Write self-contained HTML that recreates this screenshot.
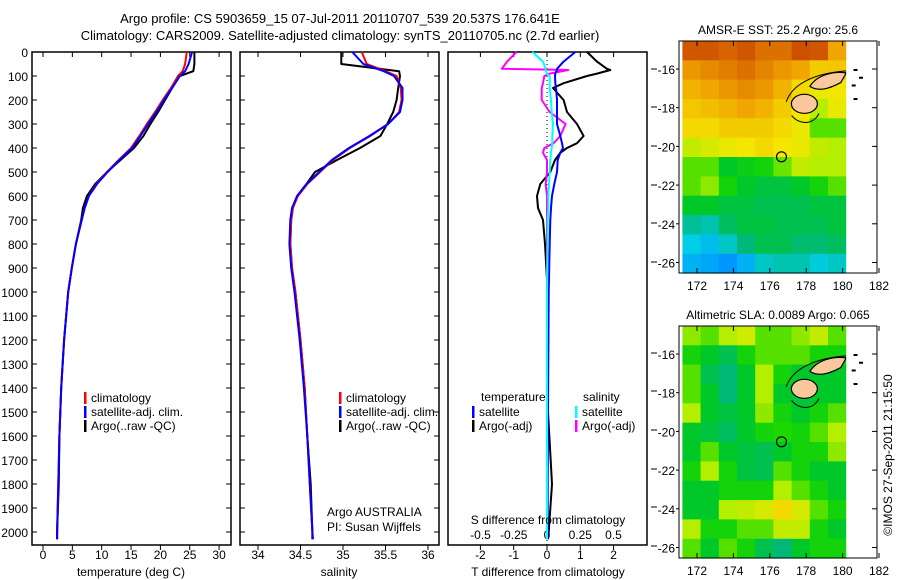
<!DOCTYPE html>
<html><head><meta charset="utf-8">
<style>
html,body{margin:0;padding:0;background:#fff;}
svg{display:block;font-family:"Liberation Sans",sans-serif;}
text{font-size:12px;fill:#000;}
</style></head>
<body>
<svg id="fig" width="900" height="580" viewBox="0 0 900 580" xmlns="http://www.w3.org/2000/svg">
<text x="340" y="23" text-anchor="middle" style="font-size:13px">Argo profile: CS 5903659_15 07-Jul-2011 20110707_539 20.537S 176.641E</text>
<text x="340" y="40" text-anchor="middle" style="font-size:13px">Climatology: CARS2009. Satellite-adjusted climatology: synTS_20110705.nc (2.7d earlier)</text>
<g id="g1"></g>
<g id="g2"></g>
<g id="g3"></g>
<g id="m1"></g>
<g id="m2"></g>
<text transform="translate(892,455) rotate(-90)" text-anchor="middle">©IMOS 27-Sep-2011 21:15:50</text>
</svg>
<script>
// ---- data ----
const depths   = [0, 50, 80, 100, 150, 200, 250, 300, 350, 400, 450, 500, 550, 600, 650, 700, 800, 900, 1000, 1200, 1400, 1600, 1800, 2000, 2030];
const tClim    = [24.5, 24.2, 23.8, 23.0, 21.8, 20.4, 19.1, 17.7, 16.4, 15.0, 12.9, 10.9, 9.1, 7.8, 7.1, 6.6, 5.6, 4.9, 4.3, 3.6, 3.1, 2.8, 2.6, 2.4, 2.4];
const tSat     = [25.4, 24.8, 24.2, 23.3, 22.0, 20.6, 19.3, 17.9, 16.6, 15.2, 13.0, 11.0, 9.2, 7.8, 7.1, 6.6, 5.6, 4.9, 4.3, 3.6, 3.1, 2.8, 2.6, 2.4, 2.4];
const tArgo    = [25.8, 25.8, 25.6, 23.3, 22.0, 20.8, 19.6, 18.3, 17.1, 15.5, 13.2, 10.9, 8.9, 7.5, 6.8, 6.5, 5.6, 4.9, 4.3, 3.6, 3.1, 2.8, 2.7, 2.4, 2.4];
const sClim    = [35.22, 35.28, 35.5, 35.63, 35.68, 35.69, 35.66, 35.53, 35.32, 35.08, 34.88, 34.73, 34.58, 34.47, 34.41, 34.39, 34.38, 34.40, 34.44, 34.50, 34.55, 34.58, 34.61, 34.64, 34.65];
const sSat     = [35.11, 35.24, 35.48, 35.60, 35.70, 35.70, 35.67, 35.53, 35.31, 35.07, 34.87, 34.72, 34.57, 34.46, 34.40, 34.38, 34.37, 34.39, 34.43, 34.49, 34.54, 34.58, 34.61, 34.64, 34.64];
const sArgo    = [34.98, 34.98, 35.66, 35.67, 35.65, 35.63, 35.59, 35.52, 35.44, 35.20, 34.93, 34.67, 34.57, 34.46, 34.41, 34.39, 34.38, 34.40, 34.44, 34.50, 34.55, 34.58, 34.62, 34.64, 34.64];
const dDepths  = [0, 40, 70, 75, 90, 100, 130, 150, 200, 250, 300, 350, 380, 400, 420, 450, 500, 550, 600, 650, 700, 800, 1000, 1500, 1800, 2000, 2030];
const dTsat    = [0.85, 0.5, 0.3, 0.3, 0.25, 0.24, 0.25, 0.27, 0.3, 0.3, 0.3, 0.4, 0.45, 0.48, 0.4, 0.32, 0.3, 0.22, 0.15, 0.12, 0.1, 0.08, 0.05, 0.03, 0.02, 0.02, 0.02];
const dTargo   = [1.2, 1.5, 1.8, 1.9, 1.5, 1.2, 0.5, 0.18, 0.5, 0.6, 0.9, 1.1, 0.9, 0.6, 0.4, 0.24, 0.1, -0.2, -0.3, -0.27, -0.12, -0.06, 0.02, 0.03, 0.15, 0.05, 0.03];
const dSsat    = [-0.11, -0.03, -0.01, -0.01, 0.0, 0.02, 0.02, 0.02, 0.03, 0.035, 0.045, 0.04, 0.04, 0.035, 0.03, 0.025, 0.02, 0.015, 0.01, 0.01, 0.005, 0.005, 0.0, 0.0, 0.0, 0.0, 0.0];
const dSargo   = [-0.23, -0.3, -0.34, 0.16, 0.02, -0.02, -0.03, -0.04, -0.04, 0.02, 0.14, 0.1, 0.05, -0.02, -0.03, 0.0, 0.0, -0.01, 0.0, 0.0, 0.0, 0.0, 0.0, 0.0, 0.0, 0.0, 0.0];
const depthTicks = [0,100,200,300,400,500,600,700,800,900,1000,1100,1200,1300,1400,1500,1600,1700,1800,1900,2000];
const tTicks = [0,5,10,15,20,25,30];
const sTicks = [34,34.5,35,35.5,36];
const dTticks = [-2,-1,0,1,2];
const dSticks = [-0.5,-0.25,0,0.25,0.5];
const dSlabels = ["-0.5","-0.25","0","0.25","0.5"];
const lonTicks = [172,174,176,178,180,182];
const latTicks = [-16,-18,-20,-22,-24,-26];
const sstGrid = [
[0.92,0.92,0.90,0.92,0.88,0.88,0.93,0.92,0.80],
[0.82,0.84,0.86,0.88,0.85,0.82,0.80,0.74,0.75],
[0.78,0.80,0.82,0.84,0.82,0.78,0.72,0.68,0.70],
[0.75,0.76,0.78,0.80,0.78,0.74,0.70,0.60,0.68],
[0.72,0.72,0.74,0.74,0.74,0.72,0.68,0.55,0.55],
[0.62,0.65,0.68,0.70,0.72,0.70,0.68,0.62,0.60],
[0.55,0.55,0.45,0.48,0.50,0.56,0.62,0.60,0.60],
[0.55,0.58,0.50,0.45,0.42,0.42,0.45,0.50,0.55],
[0.45,0.45,0.42,0.42,0.40,0.40,0.40,0.42,0.42],
[0.32,0.30,0.38,0.42,0.42,0.40,0.40,0.40,0.42],
[0.25,0.22,0.28,0.35,0.40,0.40,0.36,0.36,0.38],
[0.20,0.18,0.15,0.20,0.28,0.30,0.30,0.26,0.28]];
const slaGrid = [
[0.58,0.55,0.60,0.64,0.55,0.55,0.58,0.62,0.55],
[0.50,0.45,0.40,0.50,0.55,0.55,0.55,0.50,0.50],
[0.55,0.40,0.35,0.45,0.60,0.50,0.45,0.45,0.45],
[0.55,0.45,0.35,0.45,0.60,0.45,0.42,0.45,0.45],
[0.60,0.45,0.42,0.45,0.58,0.50,0.45,0.50,0.55],
[0.45,0.42,0.38,0.45,0.50,0.52,0.50,0.55,0.60],
[0.45,0.55,0.45,0.42,0.40,0.45,0.50,0.50,0.58],
[0.50,0.60,0.50,0.42,0.40,0.55,0.50,0.45,0.45],
[0.45,0.45,0.50,0.50,0.50,0.60,0.55,0.50,0.45],
[0.45,0.45,0.60,0.62,0.65,0.72,0.65,0.55,0.50],
[0.60,0.50,0.50,0.55,0.55,0.62,0.62,0.50,0.45],
[0.55,0.45,0.55,0.50,0.40,0.35,0.45,0.50,0.50]];
const argoLon = 176.641, argoLat = -20.537;

// ---- helpers ----
const NS="http://www.w3.org/2000/svg";
function mk(parent,tag,attrs,txt){const e=document.createElementNS(NS,tag);for(const k in attrs)e.setAttribute(k,attrs[k]);if(txt!==undefined)e.textContent=txt;parent.appendChild(e);return e;}
const Y0=52, Y1=545;
const yD = d => 52 + d*0.24;
function frame(g,x0,x1){
  const r=mk(g,'rect',{x:x0,y:Y0,width:x1-x0,height:Y1-Y0,fill:'none',stroke:'#000','stroke-width':1.5});
  
  
  depthTicks.forEach(d=>{
    mk(g,'line',{x1:x0,x2:x0+5,y1:yD(d),y2:yD(d),stroke:'#000'});
    mk(g,'line',{x1:x1,x2:x1-5,y1:yD(d),y2:yD(d),stroke:'#000'});
  });
}
function xticks(g,xs,labels,fx,ylab){
  xs.forEach((v,i)=>{
    const x=fx(v);
    mk(g,'line',{x1:x,x2:x,y1:Y1,y2:Y1+5,stroke:'#000'});
    mk(g,'line',{x1:x,x2:x,y1:Y0,y2:Y0+5,stroke:'#000'});
    const t=mk(g,'text',{x:x,y:ylab,'text-anchor':'middle'},labels[i]);
    
    
  });
}
function line(g,ds,vals,fx,col,name,w){
  const p=ds.map((d,i)=>fx(vals[i]).toFixed(1)+','+yD(d).toFixed(1)).join(' ');
  const e=mk(g,'polyline',{points:p,fill:'none',stroke:col,'stroke-width':w||2,'stroke-linejoin':'round'});
  
  
}
function legend(g,x,y,col,label){
  mk(g,'rect',{x:x,y:y-10,width:2.5,height:12,fill:col});
  const t=mk(g,'text',{x:x+7,y:y},label);
  
  
}

// ---- panel 1: temperature ----
const g1=document.getElementById('g1');
const xT = v => 43 + v*5.87;
frame(g1,32,231);
depthTicks.forEach(d=>{
  const t=mk(g1,'text',{x:28,y:yD(d)+5,'text-anchor':'end'},String(d));
  
  
});
xticks(g1,tTicks,tTicks.map(String),xT,559);
mk(g1,'text',{x:131,y:576,'text-anchor':'middle',},'temperature (deg C)');
line(g1,depths,tArgo,xT,'#000','argo-temperature-line');
line(g1,depths,tClim,xT,'#f00','climatology-temperature-line');
line(g1,depths,tSat,xT,'#00f','satellite-temperature-line');
legend(g1,84,402,'#f00','climatology');
legend(g1,84,416,'#00f','satellite-adj. clim.');
legend(g1,84,430,'#000','Argo(..raw -QC)');

// ---- panel 2: salinity ----
const g2=document.getElementById('g2');
const xS = v => 258 + (v-34)*85;
frame(g2,240,439);
xticks(g2,sTicks,["34","34.5","35","35.5","36"],xS,559);
mk(g2,'text',{x:339,y:576,'text-anchor':'middle',},'salinity');
line(g2,depths,sArgo,xS,'#000','argo-salinity-line');
line(g2,depths,sClim,xS,'#f00','climatology-salinity-line');
line(g2,depths,sSat,xS,'#00f','satellite-salinity-line');
legend(g2,339,402,'#f00','climatology');
legend(g2,339,416,'#00f','satellite-adj. clim.');
legend(g2,339,430,'#000','Argo(..raw -QC)');
mk(g2,'text',{x:327,y:516,},'Argo AUSTRALIA');
mk(g2,'text',{x:327,y:531,},'PI: Susan Wijffels');

// ---- panel 3: differences ----
const g3=document.getElementById('g3');
const xDT = v => 547 + v*33.3;
const xDS = v => 547 + v*133;
mk(g3,'rect',{x:448,y:Y0,width:199,height:Y1-Y0,fill:'none',stroke:'#000','stroke-width':1.5});
[69,107,146,185,223,262,353,391,430,469,507,546].forEach(y=>mk(g3,'line',{x1:651,x2:657,y1:y,y2:y,stroke:'#000'}));
dTticks.forEach(v=>{const x=xDT(v);mk(g3,'line',{x1:x,x2:x,y1:Y1,y2:Y1+5,stroke:'#000'});mk(g3,'line',{x1:x,x2:x,y1:Y0,y2:Y0+5,stroke:'#000'});
  const t=mk(g3,'text',{x:x,y:559,'text-anchor':'middle'},String(v));
  
  });
dSticks.forEach((v,i)=>{
  const t=mk(g3,'text',{x:xDS(v),y:539,'text-anchor':'middle'},dSlabels[i]);
  
  });
mk(g3,'line',{x1:547,x2:547,y1:Y0,y2:Y1,stroke:'#000','stroke-dasharray':'1,3'});
line(g3,dDepths,dTargo,xDT,'#000','argo-t-diff-line');
line(g3,dDepths,dSargo,xDS,'#f0f','argo-s-diff-line');
line(g3,dDepths,dTsat,xDT,'#00f','satellite-t-diff-line');
line(g3,dDepths,dSsat,xDS,'#0ff','satellite-s-diff-line');
mk(g3,'text',{x:481,y:401},'temperature');
mk(g3,'text',{x:583,y:401},'salinity');
legend(g3,472,416,'#00f','satellite');
legend(g3,472,430,'#000','Argo(-adj)');
legend(g3,575,416,'#0ff','satellite');
legend(g3,575,430,'#f0f','Argo(-adj)');
mk(g3,'text',{x:548,y:524,'text-anchor':'middle',},'S difference from climatology');
mk(g3,'text',{x:548,y:576,'text-anchor':'middle',},'T difference from climatology');

// ---- maps ----
const cstops=[[0,[0,70,255]],[0.15,[0,150,255]],[0.25,[0,205,230]],[0.35,[0,185,120]],[0.45,[0,200,40]],[0.52,[30,215,0]],[0.6,[180,238,0]],[0.7,[245,230,0]],[0.8,[240,165,0]],[0.9,[215,100,0]],[1,[180,35,0]]];
function cmap(v){for(let i=1;i<cstops.length;i++){if(v<=cstops[i][0]){const a=cstops[i-1],b=cstops[i],f=(v-a[0])/(b[0]-a[0]);return 'rgb('+a[1].map((c,k)=>Math.round(c+(b[1][k]-c)*f)).join(',')+')';}}return 'rgb(180,35,0)';}
function drawMap(id,top,grid,title){
  const g=document.getElementById(id);
  const L=679,R=877,B=top+232;
  const xL = lon => 697 + (lon-172)*18.2;
  const yL = lat => top + 28 + (-16-lat)*19.35;
  const t=mk(g,'text',{x:778,y:top-7,'text-anchor':'middle'},title);
  
  
  grid.forEach((row,r)=>row.forEach((v,c)=>{
    const cell=mk(g,'rect',{x:(xL(171.2+c)).toFixed(1),y:(yL(-14.55-r)).toFixed(1),width:18.7,height:19.8,fill:cmap(v)});
    
    
  }));
  // Fiji coast contours and land
  mk(g,'path',{d:`M${xL(176.9)},${yL(-17.7)} C${xL(177.3)},${yL(-16.6)} ${xL(178.8)},${yL(-16.2)} ${xL(180.2)},${yL(-16.1)}`,fill:'none',stroke:'#000','stroke-width':1});
  mk(g,'path',{d:`M${xL(177.2)},${yL(-18.4)} C${xL(177.6)},${yL(-18.9)} ${xL(178.4)},${yL(-18.9)} ${xL(178.7)},${yL(-18.3)}`,fill:'none',stroke:'#000','stroke-width':1});
  mk(g,'ellipse',{cx:xL(177.9),cy:yL(-17.8),rx:13,ry:9.5,fill:'#f9c89c',stroke:'#000','stroke-width':1.2,});
  mk(g,'path',{d:`M${xL(178.2)},${yL(-16.9)} C${xL(178.6)},${yL(-16.3)} ${xL(179.5)},${yL(-16.1)} ${xL(180.2)},${yL(-16.2)} L${xL(179.9)},${yL(-16.7)} C${xL(179.3)},${yL(-17.0)} ${xL(178.7)},${yL(-17.2)} ${xL(178.2)},${yL(-16.9)} Z`,fill:'#f9c89c',stroke:'#000','stroke-width':1.2,});
  mk(g,'rect',{x:xL(180.2),y:top,width:R-xL(180.2),height:232,fill:'#fff'});
  [[180.6,-16.0],[180.9,-16.4],[180.5,-16.8],[180.6,-17.5]].forEach(p=>mk(g,'rect',{x:xL(p[0]),y:yL(p[1]),width:4,height:2,fill:'#000'}));
  mk(g,'rect',{x:L,y:top,width:R-L,height:232,fill:'none',stroke:'#000','stroke-width':1});
  lonTicks.forEach(lon=>{const x=xL(lon);mk(g,'line',{x1:x,x2:x,y1:B,y2:B-5,stroke:'#000'});mk(g,'line',{x1:x,x2:x,y1:top,y2:top+5,stroke:'#000'});
    const tl=mk(g,'text',{x:x,y:B+17,'text-anchor':'middle'},String(lon));
    
    });
  latTicks.forEach(lat=>{const y=yL(lat);mk(g,'line',{x1:L-3,x2:L,y1:y,y2:y,stroke:'#000'});mk(g,'line',{x1:R,x2:R-5,y1:y,y2:y,stroke:'#000'});
    const tl=mk(g,'text',{x:675,y:y+5,'text-anchor':'end'},String(lat));
    
    });
  const c=mk(g,'circle',{cx:xL(argoLon),cy:yL(argoLat),r:5,fill:'none',stroke:'#000','stroke-width':1.2});
  
  
}
drawMap('m1',41,sstGrid,'AMSR-E SST: 25.2 Argo: 25.6');
drawMap('m2',326,slaGrid,'Altimetric SLA: 0.0089 Argo: 0.065');
</script>
</body></html>
